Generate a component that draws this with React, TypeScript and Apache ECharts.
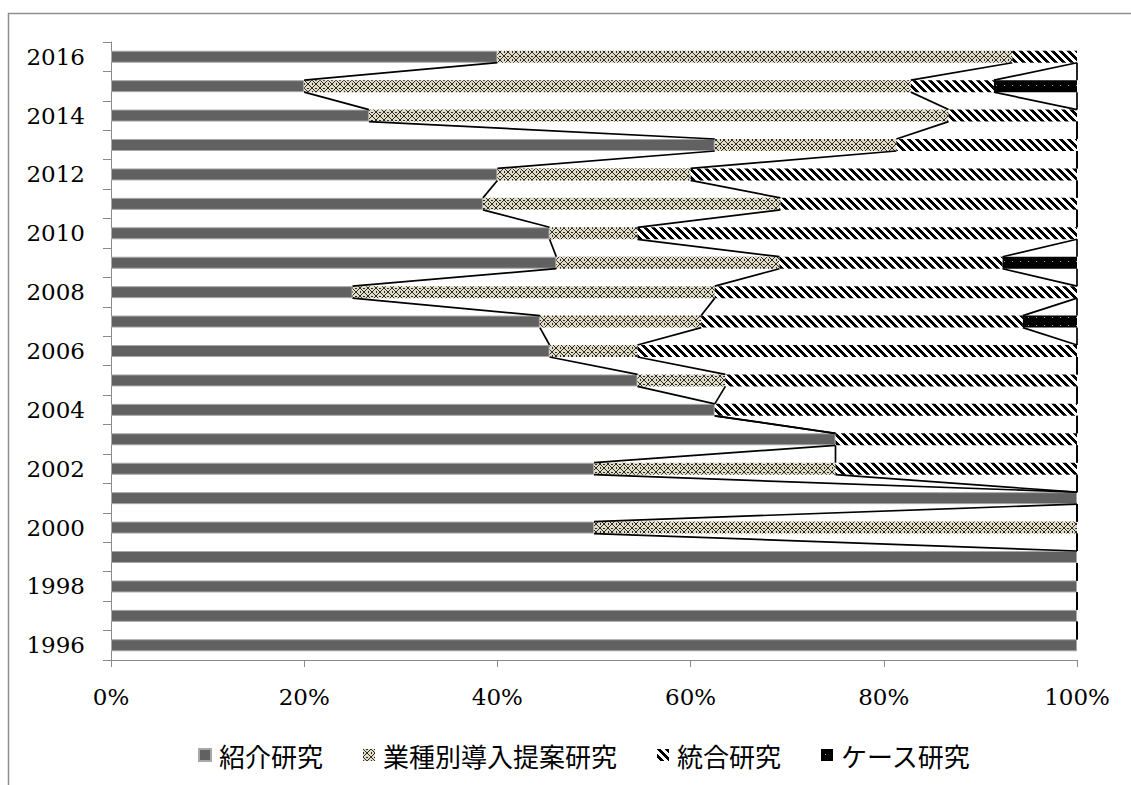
import React, { useEffect, useRef } from "react";
import * as echarts from "echarts";

const years = [
  "1996", "1997", "1998", "1999", "2000", "2001", "2002", "2003", "2004", "2005", "2006",
  "2007", "2008", "2009", "2010", "2011", "2012", "2013", "2014", "2015", "2016",
];
const introValues = [100, 100, 100, 100, 50, 100, 50, 75, 62.5, 54.5, 45.4, 44.4, 25, 46.1, 45.4, 38.5, 40, 62.5, 26.7, 20, 40];
const industryValues = [0, 0, 0, 0, 50, 0, 25, 0, 0, 9.1, 9.1, 16.7, 37.5, 23.1, 9.1, 30.8, 20, 18.8, 60, 62.8, 53.3];
const integratedValues = [0, 0, 0, 0, 0, 0, 25, 25, 37.5, 36.4, 45.5, 33.3, 37.5, 23.1, 45.5, 30.7, 40, 18.7, 13.3, 8.6, 6.7];
const caseValues = [0, 0, 0, 0, 0, 0, 0, 0, 0, 0, 0, 5.6, 0, 7.7, 0, 0, 0, 0, 0, 8.6, 0];
const seriesNames = ["紹介研究", "業種別導入提案研究", "統合研究", "ケース研究"];
const xTicks = [0, 20, 40, 60, 80, 100];

function makeTile(size: number, bg: string, fg: string, on: (x: number, y: number) => boolean) {
  const c = document.createElement("canvas");
  c.width = size;
  c.height = size;
  const ctx = c.getContext("2d")!;
  ctx.fillStyle = bg;
  ctx.fillRect(0, 0, size, size);
  ctx.fillStyle = fg;
  for (let y = 0; y < size; y++) {
    for (let x = 0; x < size; x++) {
      if (on(x, y)) ctx.fillRect(x, y, 1, 1);
    }
  }
  return c;
}

export default function App() {
  const ref = useRef<HTMLDivElement>(null);

  useEffect(() => {
    if (!ref.current) return;
    const chart = echarts.init(ref.current, undefined, { renderer: "svg" });

    const weave = makeTile(8, "#e0dbc2", "#2a2a2a", (x, y) => {
      const d1 = (x - y + 8) % 8;
      const d2 = (x + y) % 8;
      return d1 === 0 || d2 === 7 || (x === 3 && y === 0) || (x === 4 && y === 0) || (x === 0 && y === 3) || (x === 0 && y === 4);
    });
    const stripes = makeTile(8, "#ffffff", "#000000", (x, y) => ((x - y + 16) % 8) < 4);
    const dots = makeTile(8, "#000000", "#a0a0a0", (x, y) => x === 4 && y === 5);

    const valueSets = [introValues, industryValues, integratedValues, caseValues];
    const fills: any[] = [
      "#616161",
      { image: weave, repeat: "repeat" },
      { image: stripes, repeat: "repeat" },
      { image: dots, repeat: "repeat" },
    ];

    const cum: number[][] = valueSets.map((_, s) =>
      years.map((__, i) => {
        let t = 0;
        for (let k = 0; k <= s; k++) t += valueSets[k][i];
        return t;
      })
    );
    const lineData: number[][] = [];
    for (let s = 0; s < 4; s++) {
      for (let i = 0; i < years.length - 1; i++) {
        lineData.push([cum[s][i], i, cum[s][i + 1]]);
      }
    }

    const barHalf = 6;
    const barSeries = valueSets.map((vals, s) => ({
      name: seriesNames[s],
      type: "bar",
      stack: "total",
      barWidth: 12,
      data: vals,
      itemStyle: {
        color: fills[s],
        borderColor: s === 0 ? "#a8a8a8" : undefined,
        borderWidth: s === 0 ? 1 : 0,
      },
    }));

    chart.setOption({
      animation: false,
      backgroundColor: "#ffffff",
      grid: { left: 111, right: 54, top: 42, bottom: 125, outerBoundsMode: "none" },
      legend: {
        data: seriesNames,
        left: 193,
        top: 737,
        itemWidth: 12,
        itemHeight: 12,
        itemGap: 40,
        icon: "rect",
        textStyle: {
          fontFamily: "Noto Sans CJK JP",
          fontSize: 26,
          color: "#000",
          padding: [0, 0, 0, 3],
        },
      },
      xAxis: {
        type: "value",
        min: 0,
        max: 100,
        interval: 20,
        splitLine: { show: false },
        axisLine: { show: true, lineStyle: { color: "#8a8a8a", width: 1 } },
        axisTick: { show: true, length: 7, lineStyle: { color: "#8a8a8a" } },
        axisLabel: {
          margin: 25,
          fontFamily: "DejaVu Serif",
          fontSize: 23,
          color: "#000",
          formatter: (v: number) => (xTicks.indexOf(v) >= 0 ? v + "%" : ""),
        },
      },
      yAxis: {
        type: "category",
        data: years,
        axisLine: { show: true, lineStyle: { color: "#8a8a8a", width: 1 } },
        axisTick: { show: true, interval: 0, length: 8, lineStyle: { color: "#8a8a8a" } },
        axisLabel: {
          interval: 1,
          margin: 26,
          fontFamily: "DejaVu Serif",
          fontSize: 23,
          color: "#000",
        },
      },
      graphic: [
        {
          type: "polyline",
          shape: { points: [[8.5, 785], [8.5, 13.5], [1131, 13.5]] },
          style: { stroke: "#8f8f8f", lineWidth: 1.5, fill: null },
          silent: true,
        },
      ],
      series: [
        ...barSeries,
        {
          type: "custom",
          name: "seriesLines",
          coordinateSystem: "cartesian2d",
          encode: { x: [0, 2], y: 1 },
          data: lineData,
          z: 10,
          renderItem: (params: any, api: any) => {
            const a = api.value(0);
            const i = api.value(1);
            const b = api.value(2);
            const p1 = api.coord([a, i]);
            const p2 = api.coord([b, i + 1]);
            return {
              type: "line",
              shape: { x1: p1[0], y1: p1[1] - barHalf, x2: p2[0], y2: p2[1] + barHalf },
              style: { stroke: "#000", lineWidth: 1.7 },
            };
          },
        },
      ],
    });

    return () => chart.dispose();
  }, []);

  return (
    <div
      ref={ref}
      style={{ position: "fixed", left: 0, top: 0, width: 1131, height: 785, background: "#fff" }}
    />
  );
}
